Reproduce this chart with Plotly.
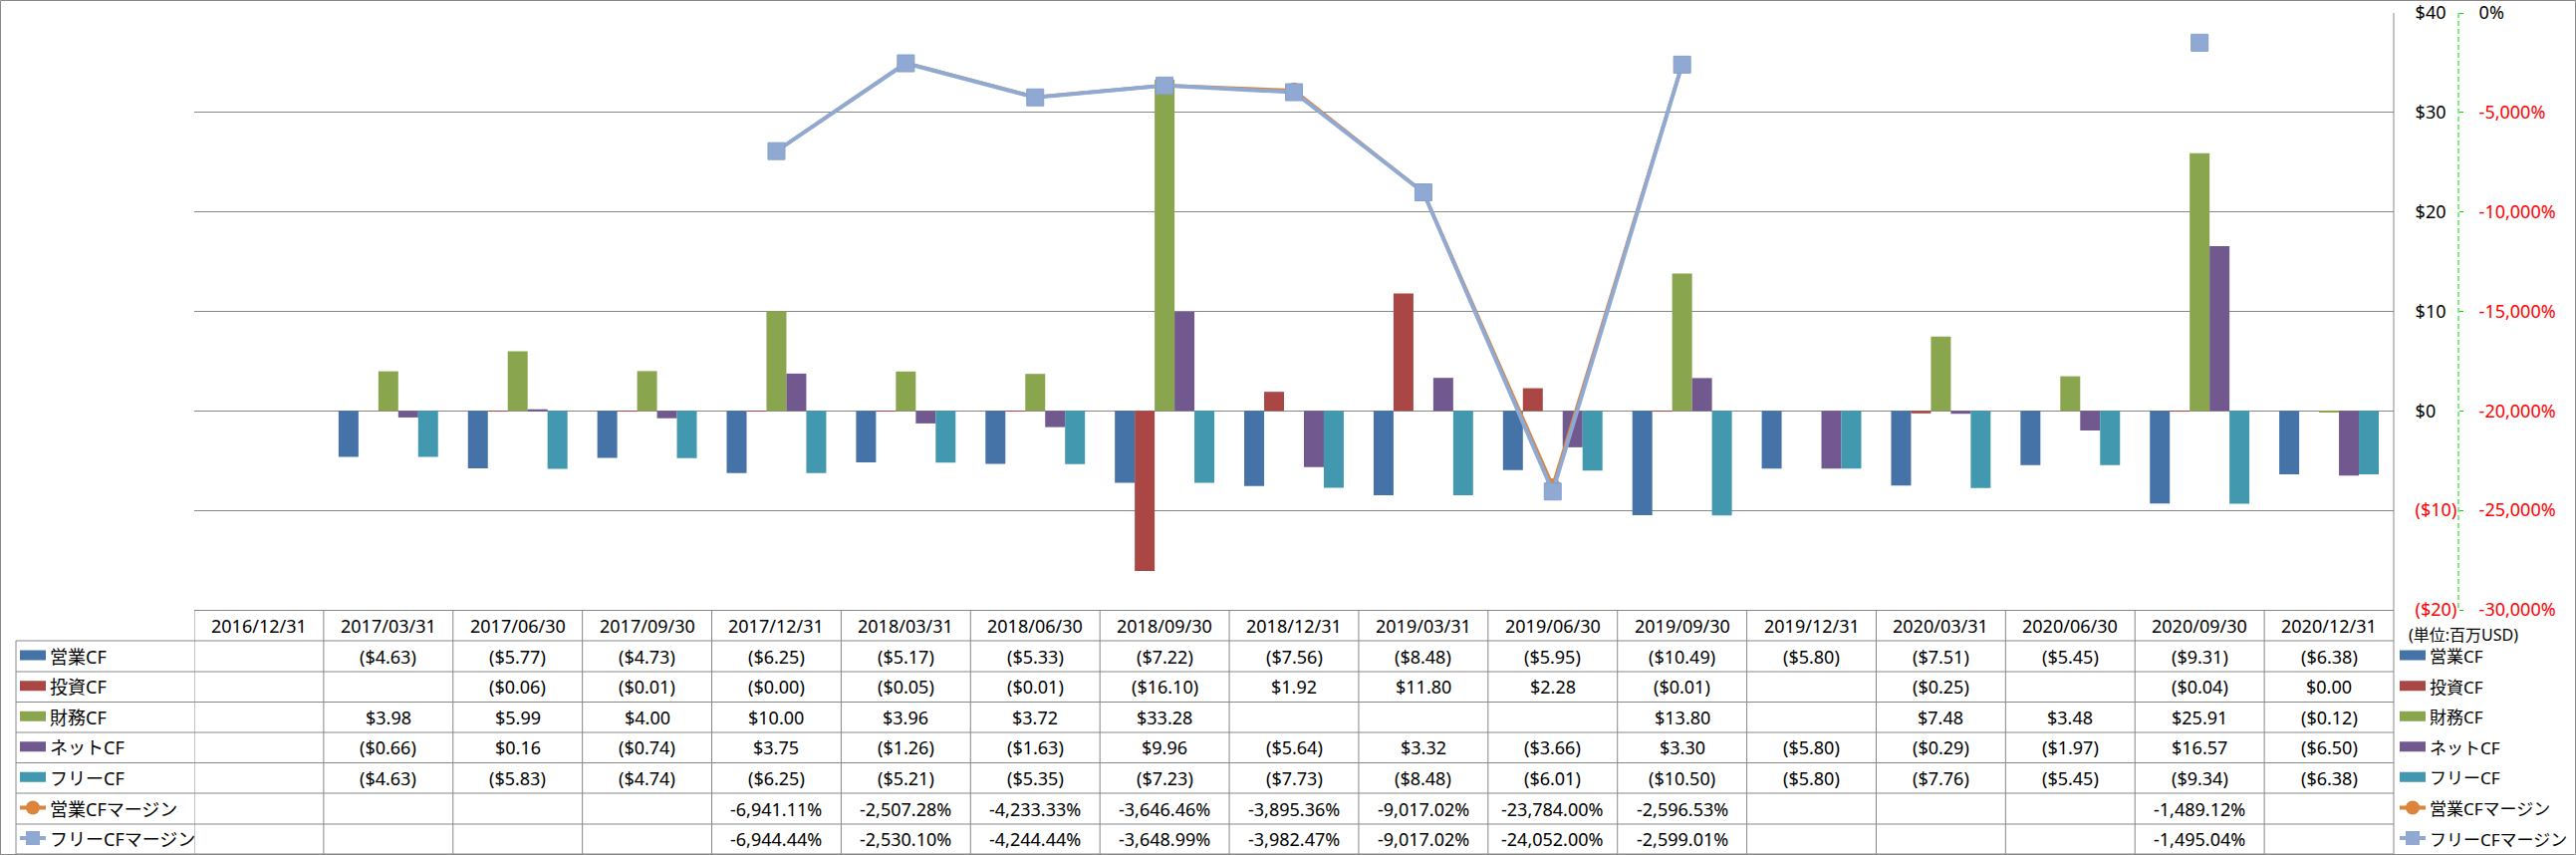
import plotly.graph_objects as go

# ---------------- data ----------------
categories = ["2016/12/31", "2017/03/31", "2017/06/30", "2017/09/30", "2017/12/31",
              "2018/03/31", "2018/06/30", "2018/09/30", "2018/12/31", "2019/03/31",
              "2019/06/30", "2019/09/30", "2019/12/31", "2020/03/31", "2020/06/30",
              "2020/09/30", "2020/12/31"]

op_cf = [None, -4.63, -5.77, -4.73, -6.25, -5.17, -5.33, -7.22, -7.56, -8.48,
         -5.95, -10.49, -5.80, -7.51, -5.45, -9.31, -6.38]
inv_cf = [None, None, -0.06, -0.01, -0.004, -0.05, -0.01, -16.10, 1.92, 11.80,
          2.28, -0.01, None, -0.25, None, -0.04, 0.00]
fin_cf = [None, 3.98, 5.99, 4.00, 10.00, 3.96, 3.72, 33.28, None, None,
          None, 13.80, None, 7.48, 3.48, 25.91, -0.12]
net_cf = [None, -0.66, 0.16, -0.74, 3.75, -1.26, -1.63, 9.96, -5.64, 3.32,
          -3.66, 3.30, -5.80, -0.29, -1.97, 16.57, -6.50]
free_cf = [None, -4.63, -5.83, -4.74, -6.25, -5.21, -5.35, -7.23, -7.73, -8.48,
           -6.01, -10.50, -5.80, -7.76, -5.45, -9.34, -6.38]
op_margin = [None, None, None, None, -6941.11, -2507.28, -4233.33, -3646.46, -3895.36,
             -9017.02, -23784.00, -2596.53, None, None, None, -1489.12, None]
free_margin = [None, None, None, None, -6944.44, -2530.10, -4244.44, -3648.99, -3982.47,
               -9017.02, -24052.00, -2599.01, None, None, None, -1495.04, None]

bar_names = ["営業CF", "投資CF", "財務CF", "ネットCF", "フリーCF"]
bar_series = [op_cf, inv_cf, fin_cf, net_cf, free_cf]
line_names = ["営業CFマージン", "フリーCFマージン"]
line_series = [op_margin, free_margin]

y1_ticks = [-20, -10, 0, 10, 20, 30, 40]
y2_ticks = [-30000, -25000, -20000, -15000, -10000, -5000, 0]
unit_label = "(単位:百万USD)"

# ---------------- style ----------------
bar_colors = ["#4572A7", "#AA4643", "#89A54E", "#71588F", "#4198AF"]
line_colors = ["#DB843D", "#8FA9D2"]
GRID = "#888888"
RED = "#FF0000"
FONT = "Noto Sans, Noto Sans CJK JP, sans-serif"

W, H = 2586, 858
L, R, T, B = 195, 0, 13, 246
PW, PH = W - L - R, H - T - B
PLOT_RIGHT = 2403
Y2_LINE = 2468


def px(x):
    return (x - L) / PW


def py(y):
    return (H - B - y) / PH


def fmt_money(v):
    if v is None:
        return ""
    s = f"${abs(v):,.2f}"
    return f"({s})" if v < 0 else s


def fmt_pct(v):
    if v is None:
        return ""
    return f"{v:,.2f}%"


fig = go.Figure()

for name, vals, col in zip(bar_names, bar_series, bar_colors):
    fig.add_trace(go.Bar(x=categories, y=vals, name=name, marker_color=col,
                         marker_line_width=0, yaxis="y", showlegend=False))

line_w = [3.5, 4]
msym = ["circle", "square"]
for name, vals, col, lw, sym in zip(line_names, line_series, line_colors, line_w, msym):
    fig.add_trace(go.Scatter(x=categories, y=vals, name=name, yaxis="y2",
                             mode="lines+markers", connectgaps=False,
                             line=dict(color=col, width=lw),
                             marker=dict(symbol=sym, size=17 if sym == "square" else 15,
                                         color=col,
                                         line=dict(color="#86A0CC" if sym == "square" else col, width=1)),
                             showlegend=False))

y1_text = []
for v in y1_ticks:
    if v < 0:
        y1_text.append(f"<span style='color:{RED}'>(${abs(v)})</span>")
    else:
        y1_text.append(f"${v}")
y2_text = []
for v in y2_ticks:
    if v < 0:
        y2_text.append(f"<span style='color:{RED}'>{v:,}%</span>")
    else:
        y2_text.append(f"{v}%")

shapes = []
annotations = []
gl = dict(color=GRID, width=1)

# outer border
shapes.append(dict(type="rect", xref="paper", yref="paper", x0=px(0.5), x1=px(W - 0.5),
                   y0=py(0.5), y1=py(H - 0.5), line=gl))
# plot right border through table
shapes.append(dict(type="line", xref="paper", yref="paper", x0=px(PLOT_RIGHT), x1=px(PLOT_RIGHT),
                   y0=py(13), y1=py(857), line=gl))
# secondary axis dashed line
shapes.append(dict(type="line", xref="paper", yref="paper", x0=px(Y2_LINE), x1=px(Y2_LINE),
                   y0=py(13), y1=py(612), line=dict(color="#00DD00", width=1, dash="5px,3px")))

# table geometry
row_bounds = [612.5, 643, 674, 704.5, 735, 765.5, 796, 827, 857]
shapes.append(dict(type="line", xref="paper", yref="paper", x0=px(L), x1=px(PLOT_RIGHT),
                   y0=py(row_bounds[0]), y1=py(row_bounds[0]), line=gl))
for yb in row_bounds[1:]:
    shapes.append(dict(type="line", xref="paper", yref="paper", x0=px(16), x1=px(PLOT_RIGHT),
                       y0=py(yb), y1=py(yb), line=gl))
shapes.append(dict(type="line", xref="paper", yref="paper", x0=px(16), x1=px(16),
                   y0=py(643), y1=py(857), line=gl))
for i in range(len(categories)):
    shapes.append(dict(type="line", xref="x", yref="paper", x0=i - 0.5, x1=i - 0.5,
                       y0=py(row_bounds[0]), y1=py(857), line=gl))

row_centers = [(row_bounds[k] + row_bounds[k + 1]) / 2 for k in range(8)]
tfont = dict(family=FONT, size=18, color="#000000")

# header row
for c in categories:
    annotations.append(dict(x=c, y=py(row_centers[0]), xref="x", yref="paper", text=c,
                            showarrow=False, font=tfont, xanchor="center", yanchor="middle"))
# value rows
all_rows = [(n, s, fmt_money) for n, s in zip(bar_names, bar_series)] + \
           [(n, s, fmt_pct) for n, s in zip(line_names, line_series)]
for r, (name, vals, f) in enumerate(all_rows):
    yc = py(row_centers[r + 1])
    for c, v in zip(categories, vals):
        t = f(v)
        if t:
            annotations.append(dict(x=c, y=yc, xref="x", yref="paper", text=t, showarrow=False,
                                    font=tfont, xanchor="center", yanchor="middle"))

# legends (left column and right side)
for x_key, x_txt, fsz in [(20, 48, 18), (2409, 2437, 17)]:
    lfont = dict(family=FONT, size=fsz, color="#000000")
    for r, name in enumerate(bar_names + line_names):
        yc = row_centers[r + 1] - 1
        if r < 5:
            shapes.append(dict(type="rect", xref="paper", yref="paper",
                               x0=px(x_key), x1=px(x_key + 26), y0=py(yc - 5), y1=py(yc + 5),
                               fillcolor=bar_colors[r], line=dict(width=0)))
        else:
            col = line_colors[r - 5]
            shapes.append(dict(type="line", xref="paper", yref="paper",
                               x0=px(x_key), x1=px(x_key + 26), y0=py(yc), y1=py(yc),
                               line=dict(color=col, width=4)))
            if r == 5:
                shapes.append(dict(type="circle", xref="paper", yref="paper",
                                   x0=px(x_key + 6), x1=px(x_key + 20), y0=py(yc - 7), y1=py(yc + 7),
                                   fillcolor=col, line=dict(width=0)))
            else:
                shapes.append(dict(type="rect", xref="paper", yref="paper",
                                   x0=px(x_key + 6), x1=px(x_key + 20), y0=py(yc - 7), y1=py(yc + 7),
                                   fillcolor=col, line=dict(width=0)))
        annotations.append(dict(x=px(x_txt), y=py(yc + 1), xref="paper", yref="paper", text=name,
                                showarrow=False, font=lfont, xanchor="left", yanchor="middle"))

annotations.append(dict(x=px(2416), y=py(637), xref="paper", yref="paper", text=unit_label,
                        showarrow=False, font=dict(family=FONT, size=16, color="#000000"),
                        xanchor="left", yanchor="middle"))

fig.update_layout(
    width=W, height=H,
    margin=dict(l=L, r=R, t=T, b=B, autoexpand=False),
    paper_bgcolor="white", plot_bgcolor="white",
    barmode="group", bargap=0.231, bargroupgap=0,
    font=dict(family=FONT, size=18, color="#000000"),
    xaxis=dict(type="category", domain=[0, px(PLOT_RIGHT)], range=[-0.5, len(categories) - 0.5],
               showticklabels=False, showgrid=False, zeroline=False, showline=False, ticks=""),
    yaxis=dict(range=[-20, 40], side="right", anchor="x", tickvals=y1_ticks, ticktext=y1_text,
               showgrid=True, gridcolor=GRID, gridwidth=1, zeroline=True, zerolinecolor=GRID,
               zerolinewidth=1, showline=False, ticks="outside", ticklen=17,
               ticklabeloverflow="allow",
               tickcolor="rgba(0,0,0,0)", tickfont=dict(family=FONT, size=18, color="#000000")),
    yaxis2=dict(range=[-30000, 0], overlaying="y", side="right", anchor="free",
                position=px(Y2_LINE), tickvals=y2_ticks, ticktext=y2_text, showgrid=False,
                zeroline=False, showline=False, ticks="outside", ticklen=4, tickcolor="#00DD00",
                tickwidth=1, ticklabelstandoff=12, ticklabeloverflow="allow",
                tickfont=dict(family=FONT, size=18, color="#000000")),
    shapes=shapes, annotations=annotations,
)

fig.write_html("out.html", config={"displayModeBar": False},
               post_script="document.body.style.margin='0';document.body.style.overflow='hidden';")
